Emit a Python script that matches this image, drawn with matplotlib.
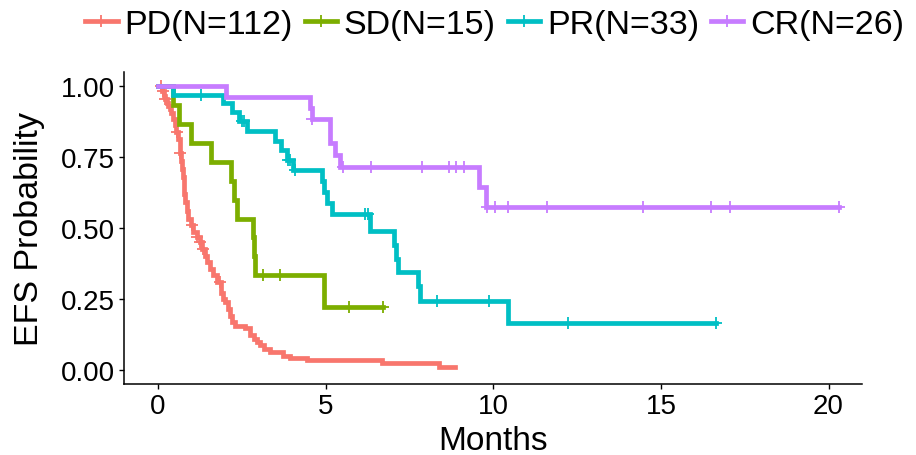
import matplotlib
matplotlib.use('Agg')
import matplotlib.pyplot as plt
import numpy as np
from matplotlib.lines import Line2D

plt.rcParams['font.family'] = ['Liberation Sans', 'DejaVu Sans']

# step curves: (time, survival) after each drop
pd_t = [0, 0.12, 0.18, 0.22, 0.26, 0.3, 0.35, 0.4, 0.45, 0.5, 0.55, 0.6, 0.64, 0.66,
        0.69, 0.71, 0.73, 0.76, 0.78, 0.81, 0.85, 0.9, 0.97, 1.05, 1.15, 1.25, 1.32,
        1.4, 1.47, 1.55, 1.65, 1.75, 1.88, 1.95, 2.0, 2.08, 2.15, 2.22, 2.3, 2.6,
        2.75, 2.85, 2.95, 3.05, 3.15, 3.34, 3.74, 3.94, 4.44, 6.68, 8.37]
pd_s = [1.0, 0.982, 0.964, 0.955, 0.94, 0.93, 0.92, 0.905, 0.885, 0.862, 0.84, 0.815,
        0.79, 0.766, 0.735, 0.708, 0.68, 0.65, 0.62, 0.59, 0.56, 0.532, 0.51, 0.485,
        0.468, 0.45, 0.425, 0.402, 0.38, 0.356, 0.333, 0.309, 0.27, 0.25, 0.238, 0.215,
        0.191, 0.17, 0.156, 0.147, 0.121, 0.11, 0.098, 0.086, 0.074, 0.062, 0.05, 0.041,
        0.033, 0.024, 0.0095]
pd_end = 8.87
pd_cens = [0.1, 0.15, 0.22, 0.57, 0.66, 1.0, 1.15, 1.25, 1.35, 1.85]

sd_t = [0, 0.45, 0.62, 0.97, 1.58, 2.17, 2.28, 2.35, 2.82, 2.86, 2.9, 4.94]
sd_s = [1.0, 0.933, 0.867, 0.80, 0.733, 0.667, 0.60, 0.533, 0.467, 0.40, 0.333, 0.222]
sd_end = 6.72
sd_cens = [3.12, 3.63, 5.71, 6.72]

pr_t = [0, 0.45, 1.95, 2.2, 2.4, 2.65, 3.5, 3.68, 3.84, 4.04, 4.88, 4.95, 5.05, 5.2,
        6.31, 7.05, 7.1, 7.15, 7.75, 7.82, 10.43]
pr_s = [1.0, 0.97, 0.939, 0.908, 0.876, 0.842, 0.808, 0.775, 0.741, 0.704, 0.665,
        0.626, 0.587, 0.548, 0.49, 0.44, 0.39, 0.344, 0.295, 0.244, 0.165]
pr_end = 16.63
pr_cens = [1.28, 2.5, 2.56, 3.88, 3.94, 4.1, 6.18, 6.25, 8.32, 9.86, 12.22, 16.63]

cr_t = [0, 2.03, 4.54, 4.58, 5.13, 5.28, 5.43, 9.58, 9.79]
cr_s = [1.0, 0.962, 0.923, 0.885, 0.80, 0.758, 0.716, 0.644, 0.574]
cr_end = 20.32
cr_cens = [4.6, 5.52, 6.35, 7.88, 8.69, 8.88, 9.13, 9.82, 10.04, 10.45, 11.6, 14.48,
           16.5, 17.07, 20.32]

groups = ['PD(N=112)', 'SD(N=15)', 'PR(N=33)', 'CR(N=26)']
colors = ['#F8766D', '#7CAE00', '#00BFC4', '#C77CFF']
curves = [(pd_t, pd_s, pd_end, pd_cens), (sd_t, sd_s, sd_end, sd_cens),
          (pr_t, pr_s, pr_end, pr_cens), (cr_t, cr_s, cr_end, cr_cens)]

fig = plt.figure(figsize=(9.16, 4.56), dpi=100)
ax = fig.add_axes([0.1354, 0.1557, 0.8057, 0.6842])

for (t, s, end, cens), c in zip(curves, colors):
    t = np.array(t + [end])
    s = np.array(s + [s[-1]])
    ax.step(t, s, where='post', color=c, lw=3.4, solid_joinstyle='miter')
    idx = np.searchsorted(t, cens, side='right') - 1
    ax.plot(cens, s[idx], ls='none', marker='+', ms=8, mew=1.3, color=c)

ax.set_xlim(-1.015, 21.0)
ax.set_ylim(-0.05, 1.05)
ax.set_xticks([0, 5, 10, 15, 20])
ax.set_yticks([0, 0.25, 0.5, 0.75, 1.0])
ax.set_yticklabels(['0.00', '0.25', '0.50', '0.75', '1.00'])
ax.tick_params(labelsize=20, length=3.6, width=1.0, color='black', pad=3)
for sp in ['top', 'right']:
    ax.spines[sp].set_visible(False)
for sp in ['left', 'bottom']:
    ax.spines[sp].set_linewidth(1.1)

ax.set_xlabel('Months', fontsize=24)
ax.set_ylabel('EFS Probability', fontsize=24.5)
ax.xaxis.set_label_coords(0.5, -0.13)
ax.yaxis.set_label_coords(-0.107, 0.5)

handles = [Line2D([], [], color=c, lw=3.4, marker='+', ms=9, mew=1.3) for c in colors]
fig.legend(handles, groups, loc='center', bbox_to_anchor=(0.54, 0.945), ncol=4,
           frameon=False, fontsize=24.5, handlelength=0.95, handletextpad=0.2,
           columnspacing=0.35, borderaxespad=0, borderpad=0)

fig.savefig('out.png', dpi=100)
